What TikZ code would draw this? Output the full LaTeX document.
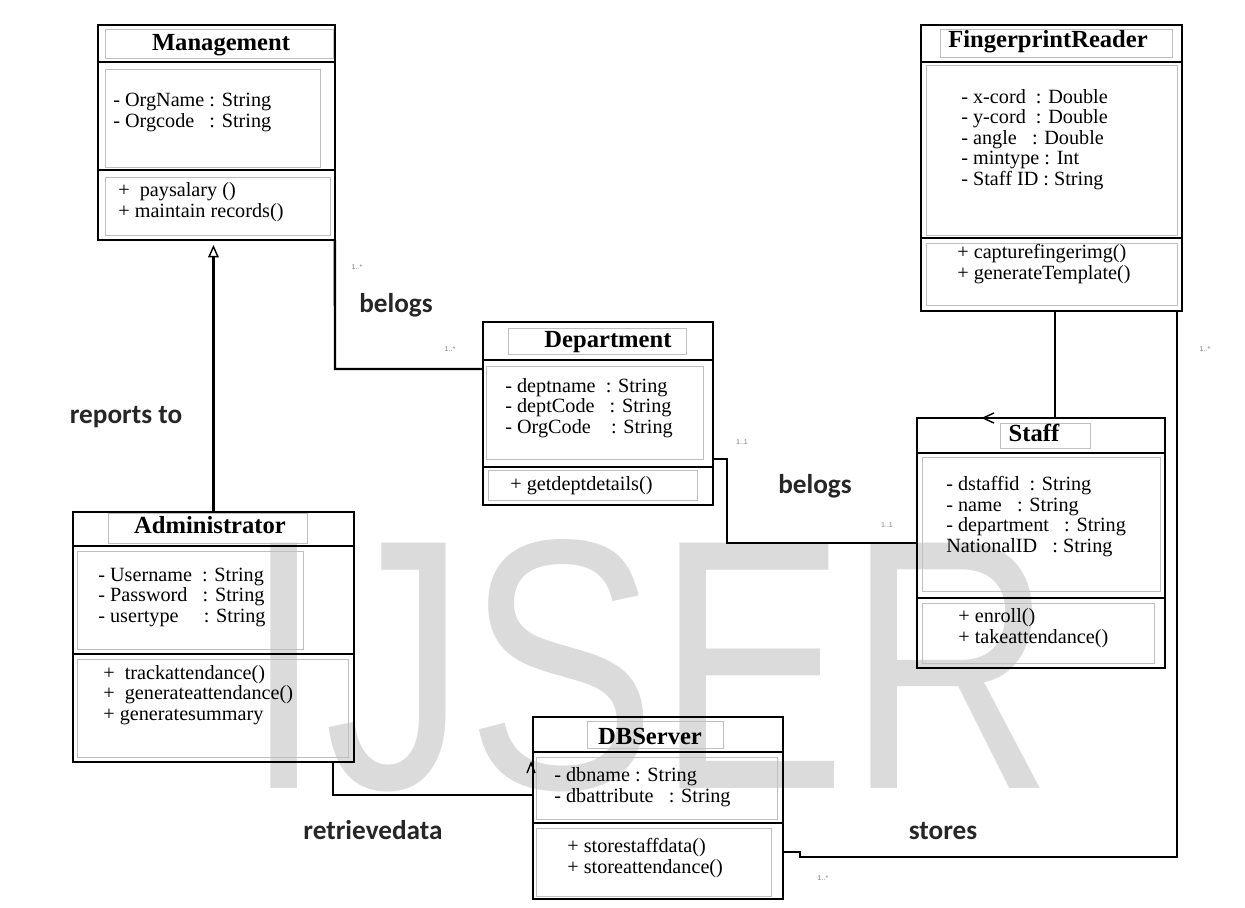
\documentclass[tikz,border=0pt]{standalone}
\usepackage{fontspec}
\setmainfont{Liberation Serif}
\newfontfamily\labelfont{Carlito}
\newfontfamily\markfont{Liberation Sans}
\usetikzlibrary{arrows.meta}

\begin{document}
\begin{tikzpicture}[x=0.02cm, y=-0.02cm,
    classbox/.style={draw, line width=1.6pt, inner sep=0pt, outer sep=0pt, anchor=north west},
    divider/.style={line width=1.6pt},
    textframe/.style={draw=gray!50, line width=0.4pt},
    classname/.style={font=\fontsize{14}{16}\selectfont\bfseries, anchor=base, inner sep=0pt},
    members/.style={font=\fontsize{11.5}{11.6}\selectfont, align=left, anchor=base west, inner sep=0pt},
    assoc/.style={line width=1.4pt},
    rolename/.style={font=\labelfont\bfseries\fontsize{15.5}{18}\selectfont, text=black!85, inner sep=0pt},
    mult/.style={font=\markfont\fontsize{4}{5}\selectfont, text=gray, inner sep=0pt}]
    \useasboundingbox (0,0) rectangle (1245,907);

    % Watermark
    \node[anchor=base, inner sep=0pt, text=gray!28, font=\markfont\fontsize{203}{203}\selectfont] (watermark) at (649,788) {\scalebox{0.8}[1]{IJSER}};

    % Management
    \node[classbox, minimum width=4.74cm, minimum height=4.30cm] (mgmt) at (98,25) {};
    \draw[divider] (98,62) -- (335,62);
    \draw[divider] (98,170) -- (335,170);
    \draw[textframe] (105,29) rectangle (333,58);
    \draw[textframe] (105,69) rectangle (320,167);
    \draw[textframe] (105,177) rectangle (330,235);
    \node[classname] (mgmtname) at (221,50) {Management};
    \node[members] (mgmtattr) at (113,127) {- OrgName : String\\- Orgcode~~~: String};
    \node[members] (mgmtops) at (118,217) {+~~paysalary ()\\+ maintain records()};

    % FingerprintReader
    \node[classbox, minimum width=5.22cm, minimum height=5.72cm] (fr) at (921,25) {};
    \draw[divider] (921,62) -- (1182,62);
    \draw[divider] (921,238) -- (1182,238);
    \draw[textframe] (940,29) rectangle (1172,57);
    \draw[textframe] (926,65) rectangle (1177,235);
    \draw[textframe] (926,243) rectangle (1177,305);
    \node[classname] (frname) at (1048,47) {FingerprintReader};
    \node[members] (frattr) at (961,185) {- x-cord~~: Double\\- y-cord~~: Double\\- angle~~~: Double\\- mintype : Int\\- Staff ID : String};
    \node[members] (frops) at (957,279) {+ capturefingerimg()\\+ generateTemplate()};

    % Department
    \node[classbox, minimum width=4.60cm, minimum height=3.66cm] (dept) at (483,322) {};
    \draw[divider] (483,360) -- (713,360);
    \draw[divider] (483,467) -- (713,467);
    \draw[textframe] (508,328) rectangle (686,354);
    \draw[textframe] (486,366) rectangle (703,459);
    \draw[textframe] (488,470) rectangle (697,500);
    \node[classname] (deptname) at (608,347) {Department};
    \node[members] (deptattr) at (505,433) {- deptname~~: String\\- deptCode~~~: String\\- OrgCode~~~~: String};
    \node[members] (deptops) at (510,490) {+ getdeptdetails()};

    % Staff
    \node[classbox, minimum width=4.96cm, minimum height=5.00cm] (staff) at (917,418) {};
    \draw[divider] (917,453) -- (1165,453);
    \draw[divider] (917,598) -- (1165,598);
    \draw[textframe] (1000,423) rectangle (1090,448);
    \draw[textframe] (922,457) rectangle (1160,591);
    \draw[textframe] (922,603) rectangle (1154,663);
    \node[classname] (staffname) at (1034,441) {Staff};
    \node[members] (staffattr) at (946,552) {- dstaffid~~: String\\- name~~~: String\\- department~~~: String\\NationalID~~~: String};
    \node[members] (staffops) at (958,643) {+ enroll()\\+ takeattendance()};

    % Administrator
    \node[classbox, minimum width=5.62cm, minimum height=5.00cm] (admin) at (73,512) {};
    \draw[divider] (73,546) -- (354,546);
    \draw[divider] (73,654) -- (354,654);
    \draw[textframe] (108,513) rectangle (307,543);
    \draw[textframe] (77,551) rectangle (303,649);
    \draw[textframe] (77,659) rectangle (348,757);
    \node[classname] (adminname) at (210,533) {Administrator};
    \node[members] (adminattr) at (98,622) {- Username~~: String\\- Password~~~: String\\- usertype~~~~~: String};
    \node[members] (adminops) at (103,720) {+~~trackattendance()\\+~~generateattendance()\\+ generatesummary};

    % DBServer
    \node[classbox, minimum width=5.00cm, minimum height=3.64cm] (db) at (533,717) {};
    \draw[divider] (533,752) -- (783,752);
    \draw[divider] (533,823) -- (783,823);
    \draw[textframe] (587,721) rectangle (723,748);
    \draw[textframe] (536,757) rectangle (777,819);
    \draw[textframe] (536,828) rectangle (771,896);
    \node[classname] (dbname) at (650,744) {DBServer};
    \node[members] (dbattr) at (554,802) {- dbname : String\\- dbattribute~~~: String};
    \node[members] (dbops) at (567,873) {+ storestaffdata()\\+ storeattendance()};

    % Connectors
    \draw[assoc, -{Triangle[open, length=7pt, width=6pt, line width=0.8pt]}, shorten >=0.1cm] (admin.north) -- (admin.north |- mgmt.south);
    \coordinate (mdbend) at (335,369);
    \draw[assoc] (mgmt.south east) -- (mdbend) -- (mdbend -| dept.west);
    \coordinate (dsA) at (727,459);
    \coordinate (dsB) at (727,543);
    \draw[assoc] (dsA -| dept.east) -- (dsA) -- (dsB) -- (dsB -| staff.west);
    \coordinate (fsx) at (1055,0);
    \draw[assoc] (fsx |- fr.south) -- (fsx |- staff.north);
    \coordinate (adbend) at (333,795);
    \draw[assoc] (adbend |- admin.south) -- (adbend) -- (adbend -| db.west);
    \coordinate (dfA) at (800,852);
    \coordinate (dfB) at (800,857);
    \coordinate (dfC) at (1177,857);
    \draw[assoc] (dfA -| db.east) -- (dfA) -- (dfB) -- (dfC) -- (dfC |- fr.south);

    % Small open heads on the borders
    \draw[line width=0.8pt] (994,413) -- (983,418) -- (994,423);
    \draw[line width=0.8pt] (527,773) -- (531,763) -- (535,773);

    % Labels
    \node[rolename] (lblbelogsa) at (396,305) {belogs};
    \node[rolename] (lblreports) at (126,417) {reports to};
    \node[rolename] (lblbelogsb) at (815,486) {belogs};
    \node[rolename] (lblretrieve) at (373,830) {retrievedata};
    \node[rolename] (lblstores) at (943,831) {stores};

    % Multiplicities
    \node[mult] (multa) at (357,267) {1..*};
    \node[mult] (multb) at (450,349) {1..*};
    \node[mult] (multc) at (742,442) {1..1};
    \node[mult] (multd) at (887,525) {1..1};
    \node[mult] (multe) at (823,878) {1..*};
    \node[mult] (multf) at (1205,349) {1..*};
\end{tikzpicture}
\end{document}
